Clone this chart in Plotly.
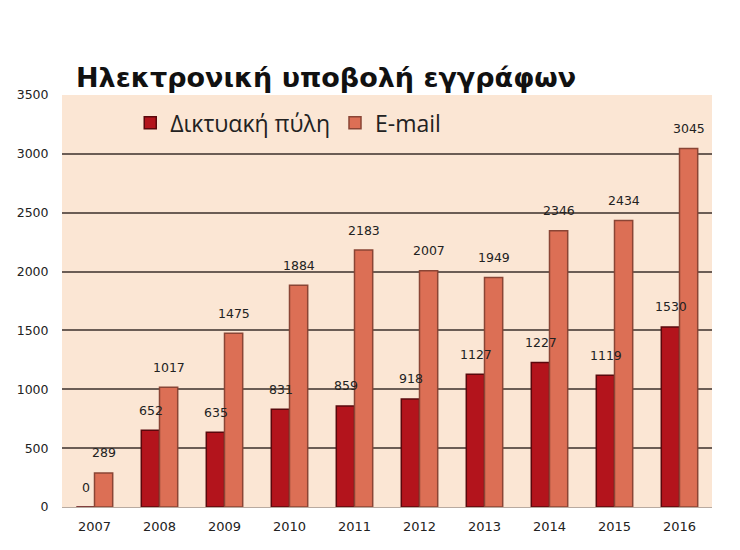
import plotly.graph_objects as go

years = ["2007", "2008", "2009", "2010", "2011", "2012", "2013", "2014", "2015", "2016"]
portal = [0, 652, 635, 831, 859, 918, 1127, 1227, 1119, 1530]
email = [289, 1017, 1475, 1884, 2183, 2007, 1949, 2346, 2434, 3045]

red = "#b3141c"
orange = "#dc6f55"

fig = go.Figure()
fig.add_trace(go.Bar(x=years, y=portal, name="Δικτυακή πύλη",
                     marker=dict(color=red, line=dict(color="#5a080c", width=1.5))))
fig.add_trace(go.Bar(x=years, y=email, name="E-mail",
                     marker=dict(color=orange, line=dict(color="#8a4535", width=1.5))))

# value labels sit a bit above each bar (x given as category index)
for i, (p, e) in enumerate(zip(portal, email)):
    fig.add_annotation(x=i, y=p, text=str(p), showarrow=False, xshift=-9, yshift=20,
                       font=dict(size=12.5, color="#222"))
    fig.add_annotation(x=i, y=e, text=str(e), showarrow=False, xshift=9, yshift=20,
                       font=dict(size=12.5, color="#222"))

fig.add_annotation(text="<b>Ηλεκτρονική υποβολή εγγράφων</b>", xref="paper", yref="paper",
                   x=0.018, y=1.0, xanchor="left", yanchor="bottom", showarrow=False,
                   font=dict(family="DejaVu Sans", size=27, color="#111"))

fig.update_layout(
    width=732, height=542,
    margin=dict(l=54, r=28, t=87, b=43),
    paper_bgcolor="white", plot_bgcolor="#fbe6d4",
    barmode="group", bargap=0.44, bargroupgap=0.0,
    font=dict(family="DejaVu Sans", size=13, color="#222"),
    legend=dict(orientation="h", x=0.105, y=0.985, xanchor="left", yanchor="top",
                bgcolor="rgba(0,0,0,0)", font=dict(family="Open Sans", size=23, color="#222")),
    xaxis=dict(type="category", range=[-0.5, 9.5], showgrid=False, showline=False,
               ticks="outside", ticklen=7, tickcolor="rgba(0,0,0,0)", automargin=False),
    yaxis=dict(range=[0, 3500], dtick=500, gridcolor="#6b5d55", gridwidth=2,
               zeroline=True, zerolinecolor="#b8aaa0", zerolinewidth=1, tickfont=dict(size=12.5),
               ticks="outside", ticklen=10, tickcolor="rgba(0,0,0,0)", automargin=False),
)

fig.write_html("out.html")
